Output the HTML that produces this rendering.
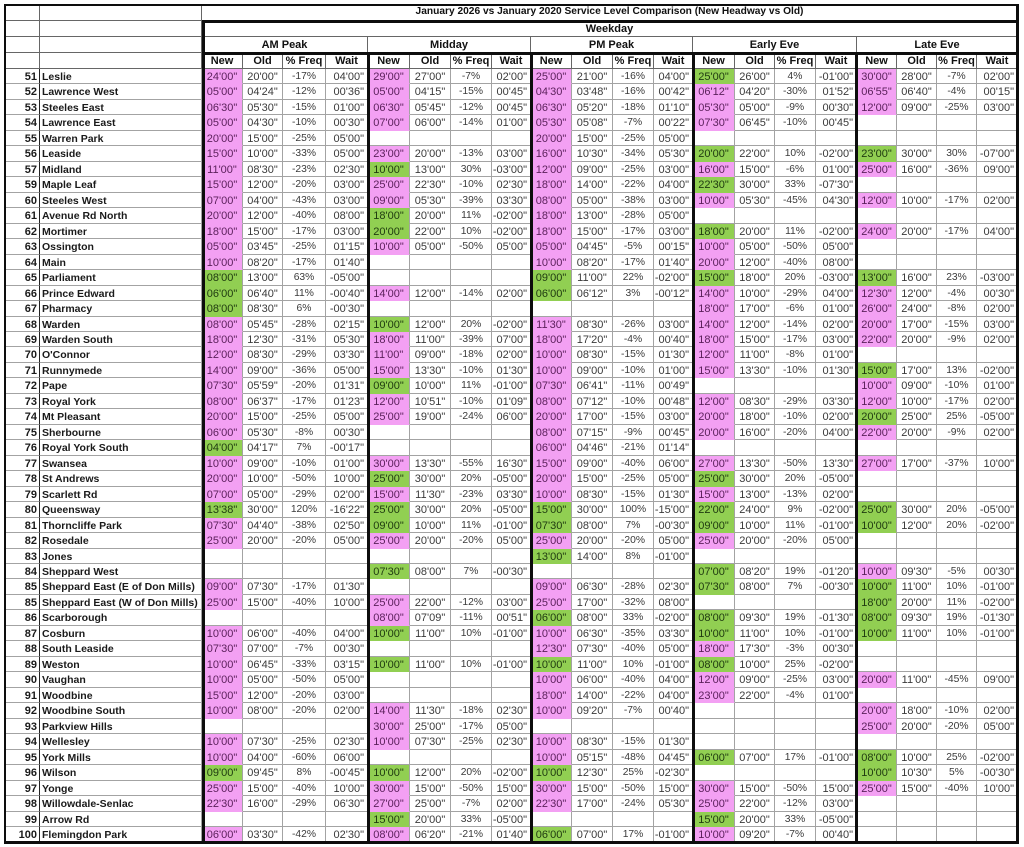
<!DOCTYPE html>
<html><head><meta charset="utf-8"><style>
html,body{margin:0;padding:0;background:#fff}
body{width:1024px;height:847px;overflow:hidden;position:relative;font-family:"Liberation Sans",Arial,sans-serif}
#h,#g{position:absolute;left:4px;display:grid;grid-template-columns:36px 162px 41px 40px 43px 42px 42px 41px 41px 39px 41px 41px 41px 39px 42px 40px 41px 41px 40px 40px 40px 41px}
#h{top:4px;grid-template-rows:17px 16px 16px 16px}
#g{top:69px;grid-template-rows:repeat(50,15.48px)}
i{font-style:normal;box-sizing:border-box;border-right:1px solid #a3a3a3;border-bottom:1px solid #a3a3a3;text-align:center;white-space:nowrap}
#h i{font-weight:bold;font-size:11px;line-height:16px;color:#111;border-color:#666}
#h i.t{font-size:10.2px;line-height:16px}
#h i.s20{grid-column:span 20}
#h i.s4{grid-column:span 4}
#g i{font-size:11px;line-height:16px;color:#3a3a3a}
#g i:nth-child(22n+1){text-align:right;padding-right:2px;font-weight:bold;color:#1a1a1a;border-right-color:#222}
#g i:nth-child(22n+2){text-align:left;padding-left:2px;font-weight:bold;font-size:10.5px;color:#1a1a1a}
#g i:nth-child(22n+5),#g i:nth-child(22n+9),#g i:nth-child(22n+13),#g i:nth-child(22n+17),#g i:nth-child(22n+21){font-size:10.3px}
#g i:nth-child(22n+6),#g i:nth-child(22n+10),#g i:nth-child(22n+14),#g i:nth-child(22n+18),#g i:nth-child(22n+22){text-align:right;padding-right:3px}
#g i.p{background:#f3a0f3;border-bottom-color:transparent;color:#5a1f5a}
#g i.g{background:#91cf52;border-bottom-color:transparent;color:#1f3a10}
b{position:absolute;display:block;background:#0d0d0d}
</style></head><body>
<div id="h">
<i></i><i></i><i class="t s20">January 2026 vs January 2020 Service Level Comparison (New Headway vs Old)</i>
<i></i><i></i><i class="s20">Weekday</i>
<i></i><i></i><i class="s4">AM Peak</i><i class="s4">Midday</i><i class="s4">PM Peak</i><i class="s4">Early Eve</i><i class="s4">Late Eve</i>
<i></i><i></i><i>New</i><i>Old</i><i>% Freq</i><i>Wait</i><i>New</i><i>Old</i><i>% Freq</i><i>Wait</i><i>New</i><i>Old</i><i>% Freq</i><i>Wait</i><i>New</i><i>Old</i><i>% Freq</i><i>Wait</i><i>New</i><i>Old</i><i>% Freq</i><i>Wait</i>
</div>
<div id="g">
<i>51</i><i>Leslie</i><i class=p>24'00"</i><i>20'00"</i><i>-17%</i><i>04'00"</i><i class=p>29'00"</i><i>27'00"</i><i>-7%</i><i>02'00"</i><i class=p>25'00"</i><i>21'00"</i><i>-16%</i><i>04'00"</i><i class=g>25'00"</i><i>26'00"</i><i>4%</i><i>-01'00"</i><i class=p>30'00"</i><i>28'00"</i><i>-7%</i><i>02'00"</i>
<i>52</i><i>Lawrence West</i><i class=p>05'00"</i><i>04'24"</i><i>-12%</i><i>00'36"</i><i class=p>05'00"</i><i>04'15"</i><i>-15%</i><i>00'45"</i><i class=p>04'30"</i><i>03'48"</i><i>-16%</i><i>00'42"</i><i class=p>06'12"</i><i>04'20"</i><i>-30%</i><i>01'52"</i><i class=p>06'55"</i><i>06'40"</i><i>-4%</i><i>00'15"</i>
<i>53</i><i>Steeles East</i><i class=p>06'30"</i><i>05'30"</i><i>-15%</i><i>01'00"</i><i class=p>06'30"</i><i>05'45"</i><i>-12%</i><i>00'45"</i><i class=p>06'30"</i><i>05'20"</i><i>-18%</i><i>01'10"</i><i class=p>05'30"</i><i>05'00"</i><i>-9%</i><i>00'30"</i><i class=p>12'00"</i><i>09'00"</i><i>-25%</i><i>03'00"</i>
<i>54</i><i>Lawrence East</i><i class=p>05'00"</i><i>04'30"</i><i>-10%</i><i>00'30"</i><i class=p>07'00"</i><i>06'00"</i><i>-14%</i><i>01'00"</i><i class=p>05'30"</i><i>05'08"</i><i>-7%</i><i>00'22"</i><i class=p>07'30"</i><i>06'45"</i><i>-10%</i><i>00'45"</i><i></i><i></i><i></i><i></i>
<i>55</i><i>Warren Park</i><i class=p>20'00"</i><i>15'00"</i><i>-25%</i><i>05'00"</i><i></i><i></i><i></i><i></i><i class=p>20'00"</i><i>15'00"</i><i>-25%</i><i>05'00"</i><i></i><i></i><i></i><i></i><i></i><i></i><i></i><i></i>
<i>56</i><i>Leaside</i><i class=p>15'00"</i><i>10'00"</i><i>-33%</i><i>05'00"</i><i class=p>23'00"</i><i>20'00"</i><i>-13%</i><i>03'00"</i><i class=p>16'00"</i><i>10'30"</i><i>-34%</i><i>05'30"</i><i class=g>20'00"</i><i>22'00"</i><i>10%</i><i>-02'00"</i><i class=g>23'00"</i><i>30'00"</i><i>30%</i><i>-07'00"</i>
<i>57</i><i>Midland</i><i class=p>11'00"</i><i>08'30"</i><i>-23%</i><i>02'30"</i><i class=g>10'00"</i><i>13'00"</i><i>30%</i><i>-03'00"</i><i class=p>12'00"</i><i>09'00"</i><i>-25%</i><i>03'00"</i><i class=p>16'00"</i><i>15'00"</i><i>-6%</i><i>01'00"</i><i class=p>25'00"</i><i>16'00"</i><i>-36%</i><i>09'00"</i>
<i>59</i><i>Maple Leaf</i><i class=p>15'00"</i><i>12'00"</i><i>-20%</i><i>03'00"</i><i class=p>25'00"</i><i>22'30"</i><i>-10%</i><i>02'30"</i><i class=p>18'00"</i><i>14'00"</i><i>-22%</i><i>04'00"</i><i class=g>22'30"</i><i>30'00"</i><i>33%</i><i>-07'30"</i><i></i><i></i><i></i><i></i>
<i>60</i><i>Steeles West</i><i class=p>07'00"</i><i>04'00"</i><i>-43%</i><i>03'00"</i><i class=p>09'00"</i><i>05'30"</i><i>-39%</i><i>03'30"</i><i class=p>08'00"</i><i>05'00"</i><i>-38%</i><i>03'00"</i><i class=p>10'00"</i><i>05'30"</i><i>-45%</i><i>04'30"</i><i class=p>12'00"</i><i>10'00"</i><i>-17%</i><i>02'00"</i>
<i>61</i><i>Avenue Rd North</i><i class=p>20'00"</i><i>12'00"</i><i>-40%</i><i>08'00"</i><i class=g>18'00"</i><i>20'00"</i><i>11%</i><i>-02'00"</i><i class=p>18'00"</i><i>13'00"</i><i>-28%</i><i>05'00"</i><i></i><i></i><i></i><i></i><i></i><i></i><i></i><i></i>
<i>62</i><i>Mortimer</i><i class=p>18'00"</i><i>15'00"</i><i>-17%</i><i>03'00"</i><i class=g>20'00"</i><i>22'00"</i><i>10%</i><i>-02'00"</i><i class=p>18'00"</i><i>15'00"</i><i>-17%</i><i>03'00"</i><i class=g>18'00"</i><i>20'00"</i><i>11%</i><i>-02'00"</i><i class=p>24'00"</i><i>20'00"</i><i>-17%</i><i>04'00"</i>
<i>63</i><i>Ossington</i><i class=p>05'00"</i><i>03'45"</i><i>-25%</i><i>01'15"</i><i class=p>10'00"</i><i>05'00"</i><i>-50%</i><i>05'00"</i><i class=p>05'00"</i><i>04'45"</i><i>-5%</i><i>00'15"</i><i class=p>10'00"</i><i>05'00"</i><i>-50%</i><i>05'00"</i><i></i><i></i><i></i><i></i>
<i>64</i><i>Main</i><i class=p>10'00"</i><i>08'20"</i><i>-17%</i><i>01'40"</i><i></i><i></i><i></i><i></i><i class=p>10'00"</i><i>08'20"</i><i>-17%</i><i>01'40"</i><i class=p>20'00"</i><i>12'00"</i><i>-40%</i><i>08'00"</i><i></i><i></i><i></i><i></i>
<i>65</i><i>Parliament</i><i class=g>08'00"</i><i>13'00"</i><i>63%</i><i>-05'00"</i><i></i><i></i><i></i><i></i><i class=g>09'00"</i><i>11'00"</i><i>22%</i><i>-02'00"</i><i class=g>15'00"</i><i>18'00"</i><i>20%</i><i>-03'00"</i><i class=g>13'00"</i><i>16'00"</i><i>23%</i><i>-03'00"</i>
<i>66</i><i>Prince Edward</i><i class=g>06'00"</i><i>06'40"</i><i>11%</i><i>-00'40"</i><i class=p>14'00"</i><i>12'00"</i><i>-14%</i><i>02'00"</i><i class=g>06'00"</i><i>06'12"</i><i>3%</i><i>-00'12"</i><i class=p>14'00"</i><i>10'00"</i><i>-29%</i><i>04'00"</i><i class=p>12'30"</i><i>12'00"</i><i>-4%</i><i>00'30"</i>
<i>67</i><i>Pharmacy</i><i class=g>08'00"</i><i>08'30"</i><i>6%</i><i>-00'30"</i><i></i><i></i><i></i><i></i><i></i><i></i><i></i><i></i><i class=p>18'00"</i><i>17'00"</i><i>-6%</i><i>01'00"</i><i class=p>26'00"</i><i>24'00"</i><i>-8%</i><i>02'00"</i>
<i>68</i><i>Warden</i><i class=p>08'00"</i><i>05'45"</i><i>-28%</i><i>02'15"</i><i class=g>10'00"</i><i>12'00"</i><i>20%</i><i>-02'00"</i><i class=p>11'30"</i><i>08'30"</i><i>-26%</i><i>03'00"</i><i class=p>14'00"</i><i>12'00"</i><i>-14%</i><i>02'00"</i><i class=p>20'00"</i><i>17'00"</i><i>-15%</i><i>03'00"</i>
<i>69</i><i>Warden South</i><i class=p>18'00"</i><i>12'30"</i><i>-31%</i><i>05'30"</i><i class=p>18'00"</i><i>11'00"</i><i>-39%</i><i>07'00"</i><i class=p>18'00"</i><i>17'20"</i><i>-4%</i><i>00'40"</i><i class=p>18'00"</i><i>15'00"</i><i>-17%</i><i>03'00"</i><i class=p>22'00"</i><i>20'00"</i><i>-9%</i><i>02'00"</i>
<i>70</i><i>O'Connor</i><i class=p>12'00"</i><i>08'30"</i><i>-29%</i><i>03'30"</i><i class=p>11'00"</i><i>09'00"</i><i>-18%</i><i>02'00"</i><i class=p>10'00"</i><i>08'30"</i><i>-15%</i><i>01'30"</i><i class=p>12'00"</i><i>11'00"</i><i>-8%</i><i>01'00"</i><i></i><i></i><i></i><i></i>
<i>71</i><i>Runnymede</i><i class=p>14'00"</i><i>09'00"</i><i>-36%</i><i>05'00"</i><i class=p>15'00"</i><i>13'30"</i><i>-10%</i><i>01'30"</i><i class=p>10'00"</i><i>09'00"</i><i>-10%</i><i>01'00"</i><i class=p>15'00"</i><i>13'30"</i><i>-10%</i><i>01'30"</i><i class=g>15'00"</i><i>17'00"</i><i>13%</i><i>-02'00"</i>
<i>72</i><i>Pape</i><i class=p>07'30"</i><i>05'59"</i><i>-20%</i><i>01'31"</i><i class=g>09'00"</i><i>10'00"</i><i>11%</i><i>-01'00"</i><i class=p>07'30"</i><i>06'41"</i><i>-11%</i><i>00'49"</i><i></i><i></i><i></i><i></i><i class=p>10'00"</i><i>09'00"</i><i>-10%</i><i>01'00"</i>
<i>73</i><i>Royal York</i><i class=p>08'00"</i><i>06'37"</i><i>-17%</i><i>01'23"</i><i class=p>12'00"</i><i>10'51"</i><i>-10%</i><i>01'09"</i><i class=p>08'00"</i><i>07'12"</i><i>-10%</i><i>00'48"</i><i class=p>12'00"</i><i>08'30"</i><i>-29%</i><i>03'30"</i><i class=p>12'00"</i><i>10'00"</i><i>-17%</i><i>02'00"</i>
<i>74</i><i>Mt Pleasant</i><i class=p>20'00"</i><i>15'00"</i><i>-25%</i><i>05'00"</i><i class=p>25'00"</i><i>19'00"</i><i>-24%</i><i>06'00"</i><i class=p>20'00"</i><i>17'00"</i><i>-15%</i><i>03'00"</i><i class=p>20'00"</i><i>18'00"</i><i>-10%</i><i>02'00"</i><i class=g>20'00"</i><i>25'00"</i><i>25%</i><i>-05'00"</i>
<i>75</i><i>Sherbourne</i><i class=p>06'00"</i><i>05'30"</i><i>-8%</i><i>00'30"</i><i></i><i></i><i></i><i></i><i class=p>08'00"</i><i>07'15"</i><i>-9%</i><i>00'45"</i><i class=p>20'00"</i><i>16'00"</i><i>-20%</i><i>04'00"</i><i class=p>22'00"</i><i>20'00"</i><i>-9%</i><i>02'00"</i>
<i>76</i><i>Royal York South</i><i class=g>04'00"</i><i>04'17"</i><i>7%</i><i>-00'17"</i><i></i><i></i><i></i><i></i><i class=p>06'00"</i><i>04'46"</i><i>-21%</i><i>01'14"</i><i></i><i></i><i></i><i></i><i></i><i></i><i></i><i></i>
<i>77</i><i>Swansea</i><i class=p>10'00"</i><i>09'00"</i><i>-10%</i><i>01'00"</i><i class=p>30'00"</i><i>13'30"</i><i>-55%</i><i>16'30"</i><i class=p>15'00"</i><i>09'00"</i><i>-40%</i><i>06'00"</i><i class=p>27'00"</i><i>13'30"</i><i>-50%</i><i>13'30"</i><i class=p>27'00"</i><i>17'00"</i><i>-37%</i><i>10'00"</i>
<i>78</i><i>St Andrews</i><i class=p>20'00"</i><i>10'00"</i><i>-50%</i><i>10'00"</i><i class=g>25'00"</i><i>30'00"</i><i>20%</i><i>-05'00"</i><i class=p>20'00"</i><i>15'00"</i><i>-25%</i><i>05'00"</i><i class=g>25'00"</i><i>30'00"</i><i>20%</i><i>-05'00"</i><i></i><i></i><i></i><i></i>
<i>79</i><i>Scarlett Rd</i><i class=p>07'00"</i><i>05'00"</i><i>-29%</i><i>02'00"</i><i class=p>15'00"</i><i>11'30"</i><i>-23%</i><i>03'30"</i><i class=p>10'00"</i><i>08'30"</i><i>-15%</i><i>01'30"</i><i class=p>15'00"</i><i>13'00"</i><i>-13%</i><i>02'00"</i><i></i><i></i><i></i><i></i>
<i>80</i><i>Queensway</i><i class=g>13'38"</i><i>30'00"</i><i>120%</i><i>-16'22"</i><i class=g>25'00"</i><i>30'00"</i><i>20%</i><i>-05'00"</i><i class=g>15'00"</i><i>30'00"</i><i>100%</i><i>-15'00"</i><i class=g>22'00"</i><i>24'00"</i><i>9%</i><i>-02'00"</i><i class=g>25'00"</i><i>30'00"</i><i>20%</i><i>-05'00"</i>
<i>81</i><i>Thorncliffe Park</i><i class=p>07'30"</i><i>04'40"</i><i>-38%</i><i>02'50"</i><i class=g>09'00"</i><i>10'00"</i><i>11%</i><i>-01'00"</i><i class=g>07'30"</i><i>08'00"</i><i>7%</i><i>-00'30"</i><i class=g>09'00"</i><i>10'00"</i><i>11%</i><i>-01'00"</i><i class=g>10'00"</i><i>12'00"</i><i>20%</i><i>-02'00"</i>
<i>82</i><i>Rosedale</i><i class=p>25'00"</i><i>20'00"</i><i>-20%</i><i>05'00"</i><i class=p>25'00"</i><i>20'00"</i><i>-20%</i><i>05'00"</i><i class=p>25'00"</i><i>20'00"</i><i>-20%</i><i>05'00"</i><i class=p>25'00"</i><i>20'00"</i><i>-20%</i><i>05'00"</i><i></i><i></i><i></i><i></i>
<i>83</i><i>Jones</i><i></i><i></i><i></i><i></i><i></i><i></i><i></i><i></i><i class=g>13'00"</i><i>14'00"</i><i>8%</i><i>-01'00"</i><i></i><i></i><i></i><i></i><i></i><i></i><i></i><i></i>
<i>84</i><i>Sheppard West</i><i></i><i></i><i></i><i></i><i class=g>07'30"</i><i>08'00"</i><i>7%</i><i>-00'30"</i><i></i><i></i><i></i><i></i><i class=g>07'00"</i><i>08'20"</i><i>19%</i><i>-01'20"</i><i class=p>10'00"</i><i>09'30"</i><i>-5%</i><i>00'30"</i>
<i>85</i><i>Sheppard East (E of Don Mills)</i><i class=p>09'00"</i><i>07'30"</i><i>-17%</i><i>01'30"</i><i></i><i></i><i></i><i></i><i class=p>09'00"</i><i>06'30"</i><i>-28%</i><i>02'30"</i><i class=g>07'30"</i><i>08'00"</i><i>7%</i><i>-00'30"</i><i class=g>10'00"</i><i>11'00"</i><i>10%</i><i>-01'00"</i>
<i>85</i><i>Sheppard East (W of Don Mills)</i><i class=p>25'00"</i><i>15'00"</i><i>-40%</i><i>10'00"</i><i class=p>25'00"</i><i>22'00"</i><i>-12%</i><i>03'00"</i><i class=p>25'00"</i><i>17'00"</i><i>-32%</i><i>08'00"</i><i></i><i></i><i></i><i></i><i class=g>18'00"</i><i>20'00"</i><i>11%</i><i>-02'00"</i>
<i>86</i><i>Scarborough</i><i></i><i></i><i></i><i></i><i class=p>08'00"</i><i>07'09"</i><i>-11%</i><i>00'51"</i><i class=g>06'00"</i><i>08'00"</i><i>33%</i><i>-02'00"</i><i class=g>08'00"</i><i>09'30"</i><i>19%</i><i>-01'30"</i><i class=g>08'00"</i><i>09'30"</i><i>19%</i><i>-01'30"</i>
<i>87</i><i>Cosburn</i><i class=p>10'00"</i><i>06'00"</i><i>-40%</i><i>04'00"</i><i class=g>10'00"</i><i>11'00"</i><i>10%</i><i>-01'00"</i><i class=p>10'00"</i><i>06'30"</i><i>-35%</i><i>03'30"</i><i class=g>10'00"</i><i>11'00"</i><i>10%</i><i>-01'00"</i><i class=g>10'00"</i><i>11'00"</i><i>10%</i><i>-01'00"</i>
<i>88</i><i>South Leaside</i><i class=p>07'30"</i><i>07'00"</i><i>-7%</i><i>00'30"</i><i></i><i></i><i></i><i></i><i class=p>12'30"</i><i>07'30"</i><i>-40%</i><i>05'00"</i><i class=p>18'00"</i><i>17'30"</i><i>-3%</i><i>00'30"</i><i></i><i></i><i></i><i></i>
<i>89</i><i>Weston</i><i class=p>10'00"</i><i>06'45"</i><i>-33%</i><i>03'15"</i><i class=g>10'00"</i><i>11'00"</i><i>10%</i><i>-01'00"</i><i class=g>10'00"</i><i>11'00"</i><i>10%</i><i>-01'00"</i><i class=g>08'00"</i><i>10'00"</i><i>25%</i><i>-02'00"</i><i></i><i></i><i></i><i></i>
<i>90</i><i>Vaughan</i><i class=p>10'00"</i><i>05'00"</i><i>-50%</i><i>05'00"</i><i></i><i></i><i></i><i></i><i class=p>10'00"</i><i>06'00"</i><i>-40%</i><i>04'00"</i><i class=p>12'00"</i><i>09'00"</i><i>-25%</i><i>03'00"</i><i class=p>20'00"</i><i>11'00"</i><i>-45%</i><i>09'00"</i>
<i>91</i><i>Woodbine</i><i class=p>15'00"</i><i>12'00"</i><i>-20%</i><i>03'00"</i><i></i><i></i><i></i><i></i><i class=p>18'00"</i><i>14'00"</i><i>-22%</i><i>04'00"</i><i class=p>23'00"</i><i>22'00"</i><i>-4%</i><i>01'00"</i><i></i><i></i><i></i><i></i>
<i>92</i><i>Woodbine South</i><i class=p>10'00"</i><i>08'00"</i><i>-20%</i><i>02'00"</i><i class=p>14'00"</i><i>11'30"</i><i>-18%</i><i>02'30"</i><i class=p>10'00"</i><i>09'20"</i><i>-7%</i><i>00'40"</i><i></i><i></i><i></i><i></i><i class=p>20'00"</i><i>18'00"</i><i>-10%</i><i>02'00"</i>
<i>93</i><i>Parkview Hills</i><i></i><i></i><i></i><i></i><i class=p>30'00"</i><i>25'00"</i><i>-17%</i><i>05'00"</i><i></i><i></i><i></i><i></i><i></i><i></i><i></i><i></i><i class=p>25'00"</i><i>20'00"</i><i>-20%</i><i>05'00"</i>
<i>94</i><i>Wellesley</i><i class=p>10'00"</i><i>07'30"</i><i>-25%</i><i>02'30"</i><i class=p>10'00"</i><i>07'30"</i><i>-25%</i><i>02'30"</i><i class=p>10'00"</i><i>08'30"</i><i>-15%</i><i>01'30"</i><i></i><i></i><i></i><i></i><i></i><i></i><i></i><i></i>
<i>95</i><i>York Mills</i><i class=p>10'00"</i><i>04'00"</i><i>-60%</i><i>06'00"</i><i></i><i></i><i></i><i></i><i class=p>10'00"</i><i>05'15"</i><i>-48%</i><i>04'45"</i><i class=g>06'00"</i><i>07'00"</i><i>17%</i><i>-01'00"</i><i class=g>08'00"</i><i>10'00"</i><i>25%</i><i>-02'00"</i>
<i>96</i><i>Wilson</i><i class=g>09'00"</i><i>09'45"</i><i>8%</i><i>-00'45"</i><i class=g>10'00"</i><i>12'00"</i><i>20%</i><i>-02'00"</i><i class=g>10'00"</i><i>12'30"</i><i>25%</i><i>-02'30"</i><i></i><i></i><i></i><i></i><i class=g>10'00"</i><i>10'30"</i><i>5%</i><i>-00'30"</i>
<i>97</i><i>Yonge</i><i class=p>25'00"</i><i>15'00"</i><i>-40%</i><i>10'00"</i><i class=p>30'00"</i><i>15'00"</i><i>-50%</i><i>15'00"</i><i class=p>30'00"</i><i>15'00"</i><i>-50%</i><i>15'00"</i><i class=p>30'00"</i><i>15'00"</i><i>-50%</i><i>15'00"</i><i class=p>25'00"</i><i>15'00"</i><i>-40%</i><i>10'00"</i>
<i>98</i><i>Willowdale-Senlac</i><i class=p>22'30"</i><i>16'00"</i><i>-29%</i><i>06'30"</i><i class=p>27'00"</i><i>25'00"</i><i>-7%</i><i>02'00"</i><i class=p>22'30"</i><i>17'00"</i><i>-24%</i><i>05'30"</i><i class=p>25'00"</i><i>22'00"</i><i>-12%</i><i>03'00"</i><i></i><i></i><i></i><i></i>
<i>99</i><i>Arrow Rd</i><i></i><i></i><i></i><i></i><i class=g>15'00"</i><i>20'00"</i><i>33%</i><i>-05'00"</i><i></i><i></i><i></i><i></i><i class=g>15'00"</i><i>20'00"</i><i>33%</i><i>-05'00"</i><i></i><i></i><i></i><i></i>
<i>100</i><i>Flemingdon Park</i><i class=p>06'00"</i><i>03'30"</i><i>-42%</i><i>02'30"</i><i class=p>08'00"</i><i>06'20"</i><i>-21%</i><i>01'40"</i><i class=g>06'00"</i><i>07'00"</i><i>17%</i><i>-01'00"</i><i class=p>10'00"</i><i>09'20"</i><i>-7%</i><i>00'40"</i><i></i><i></i><i></i><i></i>
</div>
<b style="left:4px;top:4px;width:1015px;height:2px"></b>
<b style="left:4px;top:4px;width:2px;height:840px"></b>
<b style="left:4px;top:841px;width:1015px;height:3px"></b>
<b style="left:1016px;top:4px;width:3px;height:840px"></b>
<b style="left:202px;top:20px;width:817px;height:3px"></b>
<b style="left:202px;top:52px;width:817px;height:3px"></b>
<b style="left:202px;top:20px;width:3px;height:824px"></b>
<b style="left:367px;top:52px;width:3px;height:792px"></b>
<b style="left:530px;top:52px;width:3px;height:792px"></b>
<b style="left:692px;top:52px;width:3px;height:792px"></b>
<b style="left:855px;top:52px;width:3px;height:792px"></b>
</body></html>
